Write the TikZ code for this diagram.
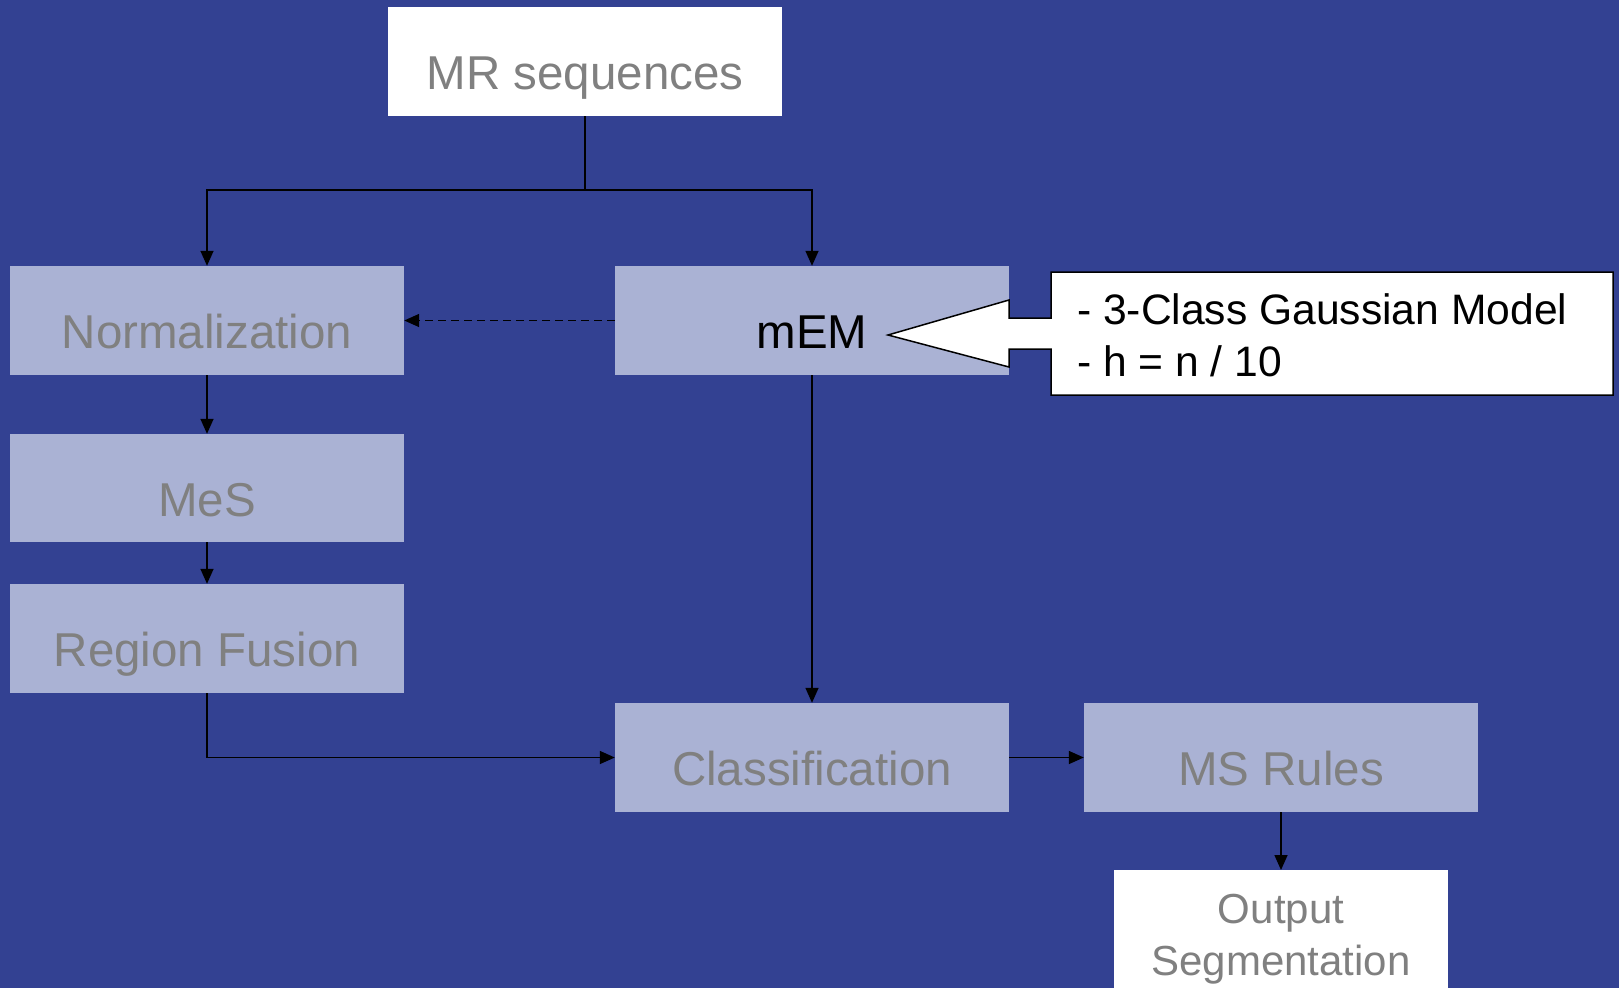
\documentclass[tikz,border=0pt]{standalone}
\usepackage{fontspec}
\setmainfont{Liberation Sans}
\usetikzlibrary{arrows.meta}
\definecolor{bg}{RGB}{51,65,146}
\definecolor{boxfill}{RGB}{170,178,212}
\definecolor{txtgray}{RGB}{128,128,128}
\tikzset{
  stepbox/.style={fill=boxfill, draw=none, inner sep=0pt, minimum width=394pt, minimum height=109pt,
    text height=82pt, text depth=27pt, text=txtgray, font=\fontsize{47.5pt}{57pt}\selectfont},
  whitebox/.style={stepbox, fill=white},
  smalltxt/.style={inner sep=0pt, anchor=base, text=txtgray, font=\fontsize{42pt}{52pt}\selectfont},
  calltxt/.style={smalltxt, anchor=base west, text=black, font=\fontsize{42.6pt}{52pt}\selectfont},
  arr/.style={draw=black, line width=1.5pt, -{Triangle[length=15pt,width=13pt]}},
  plain/.style={draw=black, line width=1.5pt},
}
\begin{document}
\begin{tikzpicture}[x=1pt,y=-1pt]
\fill[bg] (0,0) rectangle (1619,988);
\useasboundingbox (0,0) rectangle (1619,988);

% boxes
\node[whitebox] (mr) at (585,61.5) {MR sequences};
\node[stepbox] (norm) at (207,320.5) {Normalization};
\node[stepbox, text=black] (mem) at (812,320.5) {mEM};
\node[stepbox, minimum height=108pt, text depth=26pt, text height=82pt] (mes) at (207,488) {MeS};
\node[stepbox] (rf) at (207,638.5) {Region Fusion};
\node[stepbox] (cls) at (812,757.5) {Classification};
\node[stepbox] (msr) at (1281,757.5) {MS Rules};
\node[fill=white, inner sep=0pt, minimum width=334pt, minimum height=118pt, anchor=north] (out) at (1281,870) {};
\node[smalltxt] (out1) at (1281,923) {Output};
\node[smalltxt] (out2) at (1281,975) {Segmentation};

% callout
\draw[fill=white, line width=1.5pt, line join=miter]
  (1051,272) -- (1613,272) -- (1613,395) -- (1051,395) -- (1051,349) -- (1009,349)
  -- (1009,367) -- (888,335) -- (1009,300) -- (1009,318) -- (1051,318) -- cycle;
\node[calltxt] (c1) at (1077,324) {- 3-Class Gaussian Model};
\node[calltxt] (c2) at (1077,376) {- h = n / 10};

% connectors
\coordinate (split) at (585,190);
\draw[plain] (mr.south) -- (split);
\draw[arr] (split) -| (norm.north);
\draw[arr] (split) -| (mem.north);
\draw[arr, dash pattern=on 8pt off 5pt] (mem.west) -- (norm.east);
\draw[arr] (norm.south) -- (mes.north);
\draw[arr] (mes.south) -- (rf.north);
\draw[arr] (rf.south) |- (cls.west);
\draw[arr] (mem.south) -- (cls.north);
\draw[arr] (cls.east) -- (msr.west);
\draw[arr] (msr.south) -- (out.north);
\end{tikzpicture}
\end{document}
